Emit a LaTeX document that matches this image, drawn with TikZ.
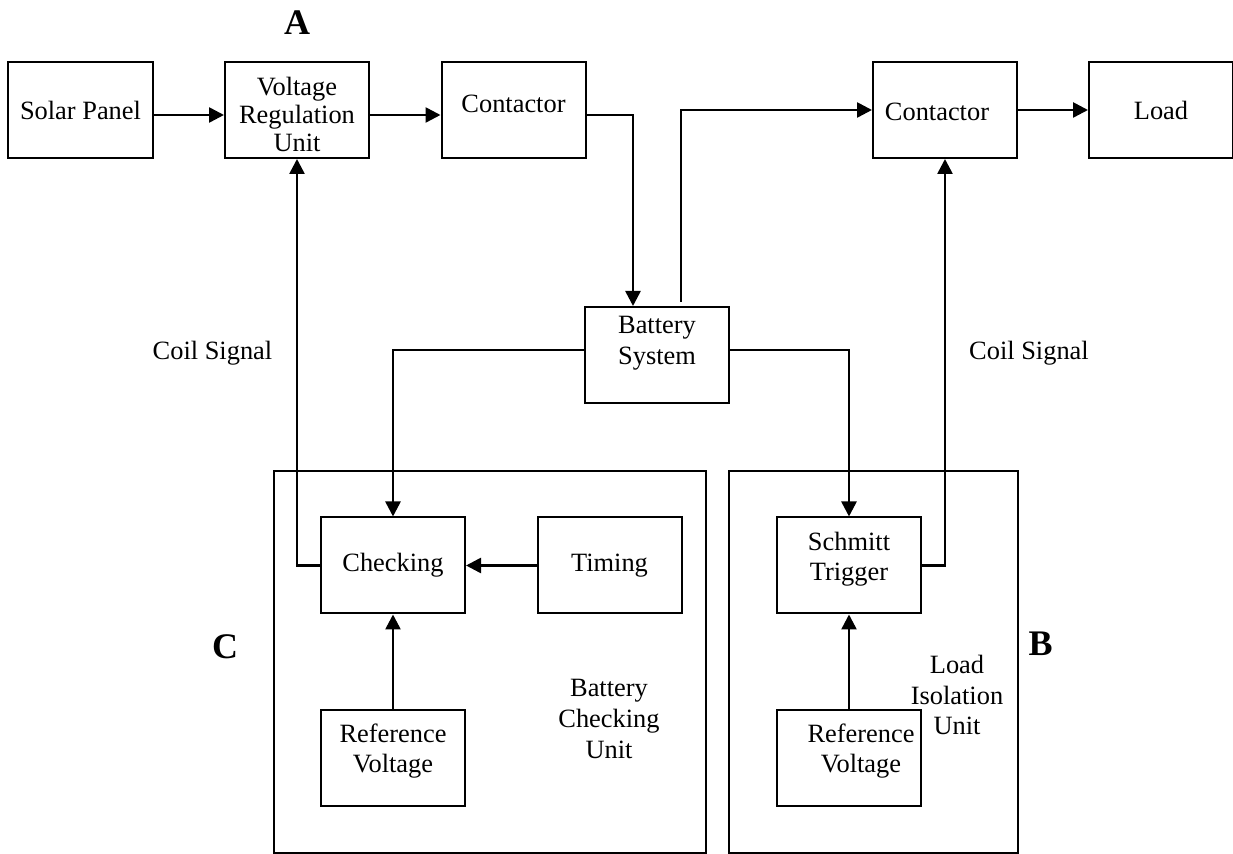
\documentclass[tikz,border=0pt]{standalone}
\usepackage{fontspec}
\setmainfont{Liberation Serif}
\usetikzlibrary{arrows.meta, positioning}
\tikzset{
  blk/.style={rectangle, draw=black, line width=1pt, align=center, font=\fontsize{13.2}{15.3}\selectfont, inner sep=0pt, minimum width=72pt, minimum height=48pt},
  unit/.style={rectangle, draw=black, line width=1pt, inner sep=0pt, minimum height=191.15pt},
  lab/.style={align=center, font=\fontsize{13.2}{15.3}\selectfont, inner sep=0pt},
  tag/.style={font=\fontsize{18}{20}\selectfont\bfseries, inner sep=0pt},
  arr/.style={-{Triangle[length=7.5pt,width=7.5pt]}, line width=1.3pt},
}

\begin{document}
\begin{tikzpicture}[x=0.5pt, y=-0.5pt]
  \useasboundingbox (0,0) rectangle (1233,854);
  % top row
  \node[tag] (tagA) at (297,23) {A};
  \node[blk, minimum width=72.5pt] (solar) at (80.5,110) {Solar Panel};
  \node[blk] (vru) at (297,110) {};
  \node[lab, font=\fontsize{13.2}{13.8}\selectfont] (vrutxt) at (297,114.5) {Voltage\\Regulation\\Unit};
  \node[blk] (con1) at (513.5,110) {};
  \node[lab] (con1txt) at (513.5,104) {Contactor};
  \node[blk] (con2) at (945,110) {};
  \node[lab] (con2txt) at (937,112) {Contactor};
  \node[blk] (load) at (1161,110) {Load};
  \node[blk] (bat) at (657,355) {};
  \node[lab] (battxt) at (657,343.5) {Battery\\System};
  \node[lab] (coil1) at (212.5,353) {Coil Signal};
  \node[lab] (coil2) at (1029,353) {Coil Signal};

  % battery checking unit (C)
  \node[unit, minimum width=216.1pt] (unitc) at (489.6,661.85) {};
  \node[blk] (chk) at (393,565.5) {Checking};
  \node[blk] (tim) at (609.5,565.5) {Timing};
  \node[blk] (refc) at (393,758.5) {};
  \node[lab] (refctxt) at (393,751) {Reference\\Voltage};
  \node[lab] (bcu) at (609,719) {Battery\\Checking\\Unit};
  \node[tag] (tagC) at (225,647) {C};

  % load isolation unit (B)
  \node[unit, minimum width=144.35pt] (unitb) at (873.35,661.85) {};
  \node[blk] (sch) at (849,565.5) {};
  \node[lab] (schtxt) at (849,559) {Schmitt\\Trigger};
  \node[blk] (refb) at (849,758.5) {};
  \node[lab] (refbtxt) at (861,751) {Reference\\Voltage};
  \node[lab] (liu) at (957,695) {Load\\Isolation\\Unit};
  \node[tag] (tagB) at (1040.7,644) {B};

  % connectors
  \draw[arr] ([yshift=-2.5pt]solar.east) -- ([yshift=-2.5pt]vru.west);
  \draw[arr] ([yshift=-2.5pt]vru.east) -- ([yshift=-2.5pt]con1.west);
  \draw[arr] ([yshift=-2.5pt]con1.east) -| ([xshift=-12pt]bat.north);
  \draw[arr, shorten <=2pt] ([xshift=12pt]bat.north) |- (con2.west);
  \draw[arr] (con2.east) -- (load.west);
  \draw[arr] ([yshift=2.5pt]bat.west) -| (chk.north);
  \draw[arr] ([yshift=2.5pt]bat.east) -| (sch.north);
  \draw[arr] (tim.west) -- (chk.east);
  \draw[arr] (refc.north) -- (chk.south);
  \draw[arr] (refb.north) -- (sch.south);
  \draw[arr] (chk.west) -| (vru.south);
  \draw[arr] (sch.east) -| (con2.south);
\end{tikzpicture}
\end{document}
